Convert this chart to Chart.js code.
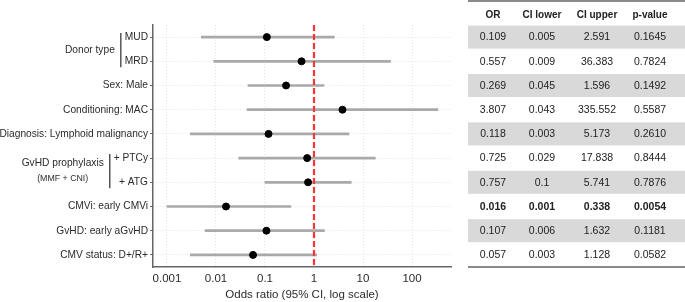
<!DOCTYPE html>
<html>
<head>
<meta charset="utf-8">
<script src="https://cdn.jsdelivr.net/npm/chart.js@4.4.0/dist/chart.umd.min.js"></script>
<style>
  html, body { margin: 0; padding: 0; background: #fff; }
  #chart { display: block; }
</style>
</head>
<body>
<canvas id="chart" width="685" height="302"></canvas>
<script>
const rowLabels = ['MUD', 'MRD', 'Sex: Male', 'Conditioning: MAC', 'Diagnosis: Lymphoid malignancy',
  '+ PTCy', '+ ATG', 'CMVi: early CMVi', 'GvHD: early aGvHD', 'CMV status: D+/R+'];
const orValues = [0.109, 0.557, 0.269, 3.807, 0.118, 0.725, 0.757, 0.016, 0.107, 0.057];
const ciLower = [0.005, 0.009, 0.045, 0.043, 0.003, 0.029, 0.1, 0.001, 0.006, 0.003];
const ciUpper = [2.591, 36.383, 1.596, 335.552, 5.173, 17.838, 5.741, 0.338, 1.632, 1.128];
const pValues = ['0.1645', '0.7824', '0.1492', '0.5587', '0.2610', '0.8444', '0.7876', '0.0054', '0.1181', '0.0582'];
const xTicks = [0.001, 0.01, 0.1, 1, 10, 100];
const xTickLabels = ['0.001', '0.01', '0.1', '1', '10', '100'];
const tableHeaders = ['OR', 'CI lower', 'CI upper', 'p-value'];
const groups = [
  { lines: ['Donor type'], rows: [0, 1] },
  { lines: ['GvHD prophylaxis', '(MMF + CNI)'], rows: [5, 6] }
];
const refValue = 1;

const FONT = 'Liberation Sans, Arial, sans-serif';
const LABEL_SIZE = 10.2;
const textColor = '#2b2b2b';

// red dashed reference line at OR = 1
const refLinePlugin = {
  id: 'refLine',
  afterDatasetsDraw(chart) {
    const { ctx, chartArea, scales } = chart;
    const x = scales.x.getPixelForValue(refValue);
    ctx.save();
    ctx.strokeStyle = '#ff3434';
    ctx.lineWidth = 2.2;
    ctx.setLineDash([6, 3]);
    ctx.beginPath();
    ctx.moveTo(x, chartArea.top);
    ctx.lineTo(x, chartArea.bottom);
    ctx.stroke();
    ctx.restore();
  }
};

// group labels with brackets, and the table on the right
const sidePlugin = {
  id: 'side',
  afterDraw(chart) {
    const { ctx, chartArea, scales } = chart;
    const y = scales.y;
    const labelFont = LABEL_SIZE + 'px ' + FONT;

    ctx.save();
    groups.forEach(g => {
      ctx.font = labelFont;
      const y1 = y.getPixelForValue(g.rows[0]);
      const y2 = y.getPixelForValue(g.rows[g.rows.length - 1]);
      const w = Math.max(...g.rows.map(r => ctx.measureText(rowLabels[r]).width));
      const bx = 148 - w - 4;
      ctx.strokeStyle = '#555';
      ctx.lineWidth = 1.5;
      ctx.beginPath();
      ctx.moveTo(bx, y1 - 4);
      ctx.lineTo(bx, y2 + 6);
      ctx.stroke();
      ctx.fillStyle = textColor;
      ctx.textBaseline = 'middle';
      const mid = (y1 + y2) / 2;
      if (g.lines.length === 1) {
        ctx.textAlign = 'right';
        ctx.fillText(g.lines[0], bx - 6, mid + 1);
      } else {
        const w0 = ctx.measureText(g.lines[0]).width;
        const cx = bx - 6 - w0 / 2;
        ctx.textAlign = 'center';
        ctx.fillText(g.lines[0], cx, mid - 7);
        ctx.font = '8.8px ' + FONT;
        ctx.fillText(g.lines[1], cx, mid + 8);
      }
    });

    // table
    const tLeft = 468, tRight = 685;
    const cols = [493, 542, 597, 650];
    for (let i = 0; i < rowLabels.length; i++) {
      if (i % 2 === 0) {
        const yc = y.getPixelForValue(i);
        ctx.fillStyle = '#d9d9d9';
        ctx.fillRect(tLeft, yc - 11.5, tRight - tLeft, 23);
      }
    }
    ctx.strokeStyle = '#666';
    ctx.lineWidth = 1.5;
    ctx.beginPath();
    ctx.moveTo(tLeft, 1); ctx.lineTo(tRight, 1);
    ctx.moveTo(tLeft, chartArea.bottom); ctx.lineTo(tRight, chartArea.bottom);
    ctx.stroke();

    ctx.textAlign = 'center';
    ctx.textBaseline = 'middle';
    ctx.fillStyle = '#222';
    ctx.font = 'bold 10px ' + FONT;
    tableHeaders.forEach((h, c) => ctx.fillText(h, cols[c], 15));
    for (let i = 0; i < rowLabels.length; i++) {
      const yc = y.getPixelForValue(i) + 0.5;
      const sig = parseFloat(pValues[i]) < 0.05;
      ctx.font = (sig ? 'bold ' : '') + '10.5px ' + FONT;
      const cells = [String(orValues[i]), String(ciLower[i]), String(ciUpper[i]), pValues[i]];
      cells.forEach((t, c) => ctx.fillText(t, cols[c], yc));
    }
    ctx.restore();
  }
};

new Chart(document.getElementById('chart'), {
  type: 'bar',
  data: {
    labels: rowLabels,
    datasets: [
      {
        type: 'bar',
        data: rowLabels.map((l, i) => [ciLower[i], ciUpper[i]]),
        backgroundColor: '#a9a9a9',
        barThickness: 2,
        order: 2
      },
      {
        type: 'scatter',
        data: orValues.map((v, i) => ({ x: v, y: rowLabels[i] })),
        backgroundColor: '#000',
        borderColor: '#000',
        pointRadius: 3.5,
        order: 1
      }
    ]
  },
  options: {
    indexAxis: 'y',
    responsive: false,
    animation: false,
    layout: { padding: { top: 25, right: 234, left: 0, bottom: 0 } },
    plugins: { legend: { display: false }, tooltip: { enabled: false } },
    scales: {
      x: {
        type: 'logarithmic',
        min: 0.000518,
        max: 625,
        afterBuildTicks: s => { s.ticks = xTicks.map(v => ({ value: v })); },
        ticks: {
          callback: v => xTickLabels[xTicks.indexOf(v)],
          autoSkip: false,
          maxRotation: 0,
          padding: 5,
          color: textColor,
          font: { family: FONT, size: 11.5 }
        },
        grid: { color: '#e2e2e2', drawTicks: false },
        border: { color: '#666', width: 1.5, dash: [1, 2] },
        title: {
          display: true,
          text: 'Odds ratio (95% CI, log scale)',
          color: textColor,
          font: { family: FONT, size: 11.5 },
          padding: { top: 3, bottom: 0 }
        },
        afterFit: s => { s.height = 35; }
      },
      y: {
        type: 'category',
        offset: true,
        grid: { offset: false, color: '#e2e2e2', tickLength: 3, tickColor: '#666', tickWidth: 1.2, tickBorderDash: [] },
        border: { color: '#666', width: 1.5, dash: [1, 2] },
        ticks: { color: textColor, padding: 2, font: { family: FONT, size: LABEL_SIZE } },
        afterFit: s => { s.width = 153; }
      }
    }
  },
  plugins: [refLinePlugin, sidePlugin]
});
</script>
</body>
</html>
